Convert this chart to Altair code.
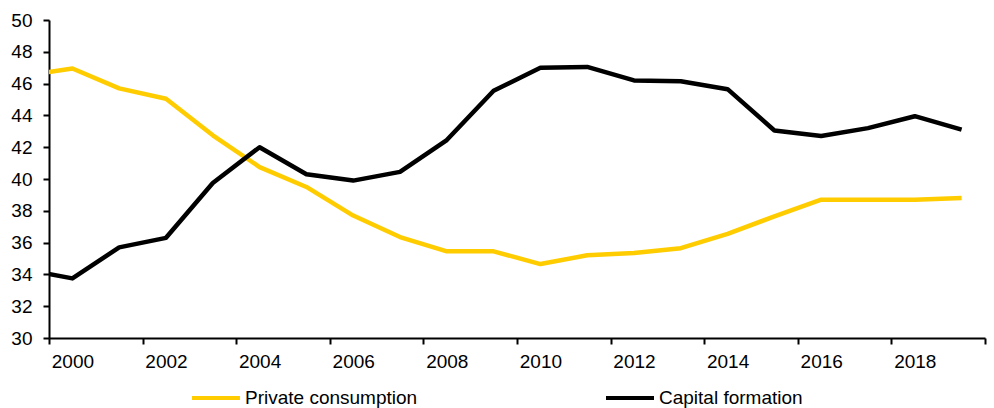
import altair as alt
import pandas as pd

# Share of GDP (%), annual
years = list(range(1999, 2020))
private_consumption = [46.5, 46.95, 45.7, 45.05, 42.75, 40.75, 39.5, 37.7, 36.35, 35.45,
                       35.45, 34.65, 35.2, 35.35, 35.65, 36.55, 37.65, 38.7, 38.7, 38.7, 38.8]
capital_formation = [34.3, 33.75, 35.7, 36.3, 39.75, 42.0, 40.3, 39.9, 40.45, 42.45,
                     45.55, 47.0, 47.05, 46.2, 46.15, 45.65, 43.05, 42.7, 43.2, 43.95, 43.1]

series = ["Private consumption", "Capital formation"]
colors = ["#FFCC00", "#000000"]

y_ticks = list(range(30, 51, 2))
x_ticks = [1999.5 + 2 * i for i in range(11)]

df = pd.concat([
    pd.DataFrame({"year": years, "value": private_consumption, "series": series[0]}),
    pd.DataFrame({"year": years, "value": capital_formation, "series": series[1]}),
])

FONT = "Liberation Sans"

chart = alt.Chart(df).mark_line(strokeWidth=4.5, clip=True, strokeJoin="round").encode(
    x=alt.X(
        "year:Q",
        scale=alt.Scale(domain=[1999.5, 2019.5], nice=False, zero=False),
        axis=alt.Axis(
            title=None,
            values=x_ticks,
            labelExpr="datum.value > 2019 ? '' : format(datum.value + 0.5, 'd')",
            labelOffset=23.4,
            labelOverlap=False,
            labelFlush=False,
            labelBound=False,
            grid=False,
            tickSize=6,
            labelPadding=8,
        ),
    ),
    y=alt.Y(
        "value:Q",
        scale=alt.Scale(domain=[30, 50], nice=False, zero=False),
        axis=alt.Axis(
            title=None,
            values=y_ticks,
            format="d",
            grid=False,
            tickSize=6,
            labelPadding=11,
        ),
    ),
    color=alt.Color(
        "series:N",
        scale=alt.Scale(domain=series, range=colors),
        sort=series,
        legend=alt.Legend(
            title=None,
            orient="none",
            legendX=141,
            legendY=352,
            direction="horizontal",
            symbolType="stroke",
            symbolSize=2304,
            symbolStrokeWidth=4,
            labelOffset=3,
            labelLimit=0,
            columnPadding=180,
            padding=0,
        ),
    ),
    detail="series:N",
).properties(
    width=936,
    height=318,
    padding={"left": 49, "top": 20, "right": 9, "bottom": 70},
    autosize=alt.AutoSizeParams(type="none"),
).configure_view(
    stroke=None
).configure_axis(
    domainColor="#000000",
    domainWidth=2,
    tickColor="#000000",
    tickWidth=2,
    labelColor="#000000",
    labelFont=FONT,
    labelFontSize=19,
).configure_legend(
    labelFont=FONT,
    labelFontSize=19,
    labelColor="#000000",
    symbolStrokeColor=None,
).configure_line(
    strokeCap="butt"
)

chart.save("out.html", embed_options={"renderer": "svg", "actions": False})
